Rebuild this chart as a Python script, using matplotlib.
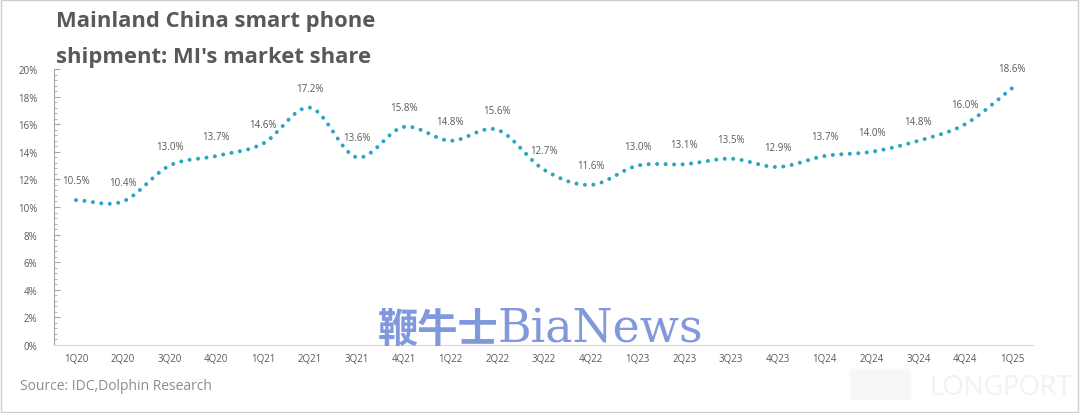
import numpy as np
import matplotlib
matplotlib.use("Agg")
import matplotlib.pyplot as plt
from matplotlib.ticker import MultipleLocator, FuncFormatter
from matplotlib.patches import Rectangle

quarters = ["1Q20", "2Q20", "3Q20", "4Q20", "1Q21", "2Q21", "3Q21", "4Q21",
            "1Q22", "2Q22", "3Q22", "4Q22", "1Q23", "2Q23", "3Q23", "4Q23",
            "1Q24", "2Q24", "3Q24", "4Q24", "1Q25"]
share = [10.5, 10.4, 13.0, 13.7, 14.6, 17.2, 13.6, 15.8,
         14.8, 15.6, 12.7, 11.6, 13.0, 13.1, 13.5, 12.9,
         13.7, 14.0, 14.8, 16.0, 18.6]
title_lines = ["Mainland China smart phone", "shipment: MI's market share"]
source = "Source: IDC,Dolphin Research"

LINE = "#2AA6C2"
TXT = "#595959"

fig = plt.figure(figsize=(10.8, 4.14), dpi=100)
ax = fig.add_axes([54/1080, 1-346/414, (1033-54)/1080, (346-70)/414])

x = np.arange(len(share), dtype=float)
y = np.array(share, dtype=float)

# Catmull-Rom smoothing (Excel-like smoothed line) for rendering
def catmull(xp, yp, n=30):
    P = np.column_stack([xp, yp])
    P = np.vstack([P[0] - (P[1] - P[0]), P, P[-1] + (P[-1] - P[-2])])
    out = []
    for i in range(1, len(P) - 2):
        p0, p1, p2, p3 = P[i-1], P[i], P[i+1], P[i+2]
        t = np.linspace(0, 1, n, endpoint=(i == len(P) - 3))[:, None]
        seg = 0.5 * ((2*p1) + (-p0 + p2)*t + (2*p0 - 5*p1 + 4*p2 - p3)*t**2 +
                     (-p0 + 3*p1 - 3*p2 + p3)*t**3)
        out.append(seg)
    out = np.vstack(out)
    return out[:, 0], out[:, 1]

sx, sy = catmull(x, y)
ax.plot(sx, sy, color=LINE, lw=2.9, linestyle=(0, (0.01, 2.1)),
        dash_capstyle="round", solid_capstyle="round", zorder=3)

for xi, yi in zip(x, y):
    ax.annotate(f"{yi:.1f}%", (xi, yi), xytext=(0, 10), textcoords="offset points",
                ha="center", va="bottom", fontsize=7, color=TXT, family="Open Sans")

ax.set_xlim(-0.47, 20.45)
ax.set_ylim(0, 20)
ax.set_xticks(x)
ax.set_xticklabels(quarters)
ax.yaxis.set_major_locator(MultipleLocator(2))
ax.yaxis.set_minor_locator(MultipleLocator(0.4))
ax.yaxis.set_major_formatter(FuncFormatter(lambda v, p: f"{v:.0f}%"))
ax.tick_params(axis="x", length=0, pad=6, labelsize=7, labelcolor=TXT)
ax.tick_params(axis="y", which="major", direction="in", length=4, color="#a6a6a6",
               labelsize=7, labelcolor=TXT, pad=12)
ax.tick_params(axis="y", which="minor", direction="in", length=2.5, color="#a6a6a6")
for lab in ax.get_xticklabels() + ax.get_yticklabels():
    lab.set_family("Open Sans")
for s in ["top", "right"]:
    ax.spines[s].set_visible(False)
ax.spines["left"].set_color("#a6a6a6")
ax.spines["bottom"].set_color("#d9d9d9")
ax.spines["left"].set_linewidth(0.8)
ax.spines["bottom"].set_linewidth(0.8)

for yc, line in zip([22, 58], title_lines):
    fig.text(56/1080, 1-yc/414, line, ha="left", va="center", fontsize=15.8,
             fontweight="bold", color=TXT, family="Open Sans")
fig.text(20/1080, 1-387/414, source, ha="left", va="center", fontsize=10,
         color="#8c8c8c", family="Open Sans")

# watermarks
fig.text(378/1080, 1-342/414, "鞭牛士", ha="left", va="baseline", fontsize=29,
         color="#7A94DA", family=["Noto Sans CJK SC", "DejaVu Sans"], fontweight="bold",
         alpha=0.95)
fig.text(497/1080, 1-343/414, "BiaNews", ha="left", va="baseline", fontsize=33,
         color="#7A94DA", family="DejaVu Serif", alpha=0.95)
fig.text(930/1080, 1-388/414, "LONGPORT", ha="left", va="center", fontsize=19,
         color="#f2f2f2", family="Lato")
fig.patches.append(Rectangle((850/1080, 1-400/414), 60/1080, 30/414,
                             transform=fig.transFigure, color="#f7f7f7", zorder=0))

fig.patches.append(Rectangle((0.001, 0.002), 0.997, 0.996, transform=fig.transFigure,
                             fill=False, edgecolor="#cfcfcf", lw=1))

fig.savefig("out.png", dpi=100)
